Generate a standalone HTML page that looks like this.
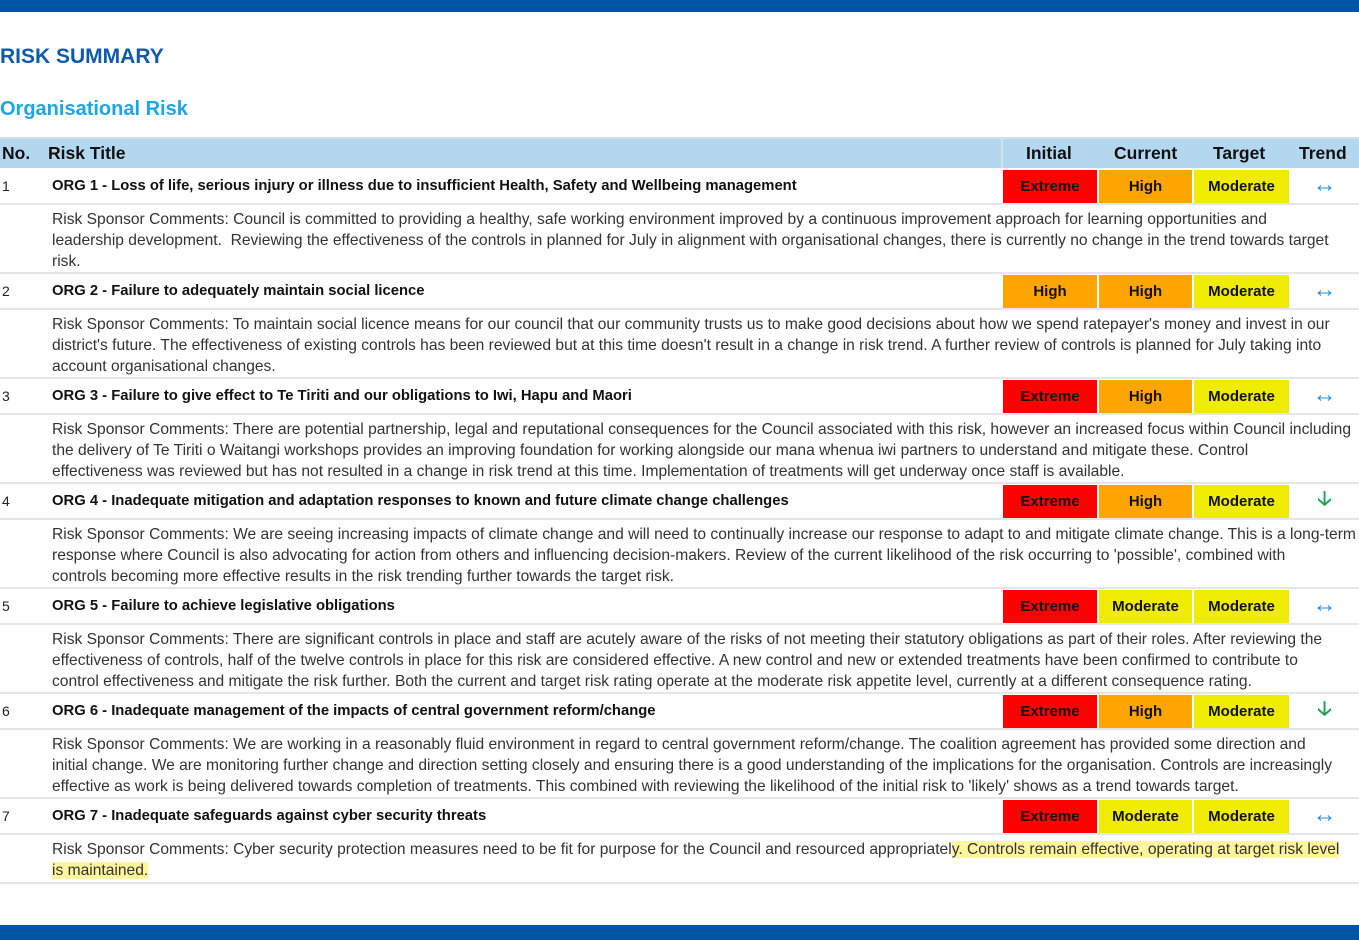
<!DOCTYPE html>
<html><head><meta charset="utf-8">
<style>
*{margin:0;padding:0;box-sizing:border-box}
body{width:1359px;height:940px;position:relative;background:#fff;font-family:"Liberation Sans",sans-serif;overflow:hidden}
.a{position:absolute}
.bar{background:#0055A5;left:0;width:1359px}
.h1{left:0;top:45px;font-size:21px;font-weight:bold;color:#0E5AAE}
.h2{left:0;top:98px;font-size:20px;font-weight:bold;color:#1AA7E8}
.hdr{left:0;top:137px;width:1359px;height:31px;background:#B4D7F0;border-top:2px solid #d6dde3}
.ht{font-size:17.5px;font-weight:bold;color:#111;top:143px}
.num{left:2px;font-size:14px;color:#222}
.tt{left:52px;font-size:14.8px;font-weight:bold;color:#111;white-space:nowrap}
.cell{height:33px;font-size:15px;font-weight:bold;color:#111;text-align:center;line-height:33px}
.ex{background:#FF0000}.hi{background:#FFA500}.mo{background:#F0EC00}
.cm{left:52px;font-size:15.6px;line-height:21px;color:#333;white-space:nowrap;top:0}
.ln{left:0;width:1359px;height:2px;background:#e4e6e8}
.tr{left:1290px;width:69px;text-align:center;font-size:24px;font-weight:bold;color:#2E8FD8;line-height:33px}
.dn{color:#22A05A;font-weight:bold}
mark{background:#FFF59D;color:#333}
</style></head><body>
<div class="a bar" style="top:0;height:12px"></div>
<div class="a bar" style="top:925px;height:15px"></div>
<div class="a h1">RISK SUMMARY</div>
<div class="a h2">Organisational Risk</div>
<div class="a hdr"></div>
<div class="a" style="left:1001px;top:139px;width:2px;height:29px;background:#cfe3f3"></div>
<div class="a ht" style="left:2px">No.</div>
<div class="a ht" style="left:48px">Risk Title</div>
<div class="a ht" style="left:1026px">Initial</div>
<div class="a ht" style="left:1114px">Current</div>
<div class="a ht" style="left:1213px">Target</div>
<div class="a ht" style="left:1299px">Trend</div>

<div class="a num" style="top:178px">1</div>
<div class="a tt" style="top:178px">ORG 1 - Loss of life, serious injury or illness due to insufficient Health, Safety and Wellbeing management</div>
<div class="a cell ex" style="left:1003px;top:170px;width:94px">Extreme</div>
<div class="a cell hi" style="left:1099px;top:170px;width:93px">High</div>
<div class="a cell mo" style="left:1194px;top:170px;width:95px">Moderate</div>
<div class="a tr" style="top:168px">↔</div>
<div class="a ln" style="top:203px"></div>
<div class="a cm" style="top:209px">Risk Sponsor Comments: Council is committed to providing a healthy, safe working environment improved by a continuous improvement approach for learning opportunities and<br>leadership development.&nbsp; Reviewing the effectiveness of the controls in planned for July in alignment with organisational changes, there is currently no change in the trend towards target<br>risk.</div>
<div class="a ln" style="top:272px"></div>

<div class="a num" style="top:283px">2</div>
<div class="a tt" style="top:283px">ORG 2 - Failure to adequately maintain social licence</div>
<div class="a cell hi" style="left:1003px;top:275px;width:94px">High</div>
<div class="a cell hi" style="left:1099px;top:275px;width:93px">High</div>
<div class="a cell mo" style="left:1194px;top:275px;width:95px">Moderate</div>
<div class="a tr" style="top:273px">↔</div>
<div class="a ln" style="top:308px"></div>
<div class="a cm" style="top:314px">Risk Sponsor Comments: To maintain social licence means for our council that our community trusts us to make good decisions about how we spend ratepayer's money and invest in our<br>district's future. The effectiveness of existing controls has been reviewed but at this time doesn't result in a change in risk trend. A further review of controls is planned for July taking into<br>account organisational changes.</div>
<div class="a ln" style="top:377px"></div>

<div class="a num" style="top:388px">3</div>
<div class="a tt" style="top:388px">ORG 3 - Failure to give effect to Te Tiriti and our obligations to Iwi, Hapu and Maori</div>
<div class="a cell ex" style="left:1003px;top:380px;width:94px">Extreme</div>
<div class="a cell hi" style="left:1099px;top:380px;width:93px">High</div>
<div class="a cell mo" style="left:1194px;top:380px;width:95px">Moderate</div>
<div class="a tr" style="top:378px">↔</div>
<div class="a ln" style="top:413px"></div>
<div class="a cm" style="top:419px">Risk Sponsor Comments: There are potential partnership, legal and reputational consequences for the Council associated with this risk, however an increased focus within Council including<br>the delivery of Te Tiriti o Waitangi workshops provides an improving foundation for working alongside our mana whenua iwi partners to understand and mitigate these. Control<br>effectiveness was reviewed but has not resulted in a change in risk trend at this time. Implementation of treatments will get underway once staff is available.</div>
<div class="a ln" style="top:482px"></div>

<div class="a num" style="top:493px">4</div>
<div class="a tt" style="top:493px">ORG 4 - Inadequate mitigation and adaptation responses to known and future climate change challenges</div>
<div class="a cell ex" style="left:1003px;top:485px;width:94px">Extreme</div>
<div class="a cell hi" style="left:1099px;top:485px;width:93px">High</div>
<div class="a cell mo" style="left:1194px;top:485px;width:95px">Moderate</div>
<div class="a tr dn" style="top:483px;font-size:20px">🡣</div>
<div class="a ln" style="top:518px"></div>
<div class="a cm" style="top:524px">Risk Sponsor Comments: We are seeing increasing impacts of climate change and will need to continually increase our response to adapt to and mitigate climate change. This is a long-term<br>response where Council is also advocating for action from others and influencing decision-makers. Review of the current likelihood of the risk occurring to 'possible', combined with<br>controls becoming more effective results in the risk trending further towards the target risk.</div>
<div class="a ln" style="top:587px"></div>

<div class="a num" style="top:598px">5</div>
<div class="a tt" style="top:598px">ORG 5 - Failure to achieve legislative obligations</div>
<div class="a cell ex" style="left:1003px;top:590px;width:94px">Extreme</div>
<div class="a cell mo" style="left:1099px;top:590px;width:93px">Moderate</div>
<div class="a cell mo" style="left:1194px;top:590px;width:95px">Moderate</div>
<div class="a tr" style="top:588px">↔</div>
<div class="a ln" style="top:623px"></div>
<div class="a cm" style="top:629px">Risk Sponsor Comments: There are significant controls in place and staff are acutely aware of the risks of not meeting their statutory obligations as part of their roles. After reviewing the<br>effectiveness of controls, half of the twelve controls in place for this risk are considered effective. A new control and new or extended treatments have been confirmed to contribute to<br>control effectiveness and mitigate the risk further. Both the current and target risk rating operate at the moderate risk appetite level, currently at a different consequence rating.</div>
<div class="a ln" style="top:692px"></div>

<div class="a num" style="top:703px">6</div>
<div class="a tt" style="top:703px">ORG 6 - Inadequate management of the impacts of central government reform/change</div>
<div class="a cell ex" style="left:1003px;top:695px;width:94px">Extreme</div>
<div class="a cell hi" style="left:1099px;top:695px;width:93px">High</div>
<div class="a cell mo" style="left:1194px;top:695px;width:95px">Moderate</div>
<div class="a tr dn" style="top:693px;font-size:20px">🡣</div>
<div class="a ln" style="top:728px"></div>
<div class="a cm" style="top:734px">Risk Sponsor Comments: We are working in a reasonably fluid environment in regard to central government reform/change. The coalition agreement has provided some direction and<br>initial change. We are monitoring further change and direction setting closely and ensuring there is a good understanding of the implications for the organisation. Controls are increasingly<br>effective as work is being delivered towards completion of treatments. This combined with reviewing the likelihood of the initial risk to 'likely' shows as a trend towards target.</div>
<div class="a ln" style="top:797px"></div>

<div class="a num" style="top:808px">7</div>
<div class="a tt" style="top:808px">ORG 7 - Inadequate safeguards against cyber security threats</div>
<div class="a cell ex" style="left:1003px;top:800px;width:94px">Extreme</div>
<div class="a cell mo" style="left:1099px;top:800px;width:93px">Moderate</div>
<div class="a cell mo" style="left:1194px;top:800px;width:95px">Moderate</div>
<div class="a tr" style="top:798px">↔</div>
<div class="a ln" style="top:833px"></div>
<div class="a cm" style="top:839px">Risk Sponsor Comments: Cyber security protection measures need to be fit for purpose for the Council and resourced appropriatel<mark>y. Controls remain effective, operating at target risk level</mark><br><mark>is maintained.</mark></div>
<div class="a ln" style="top:882px"></div>
</body></html>
